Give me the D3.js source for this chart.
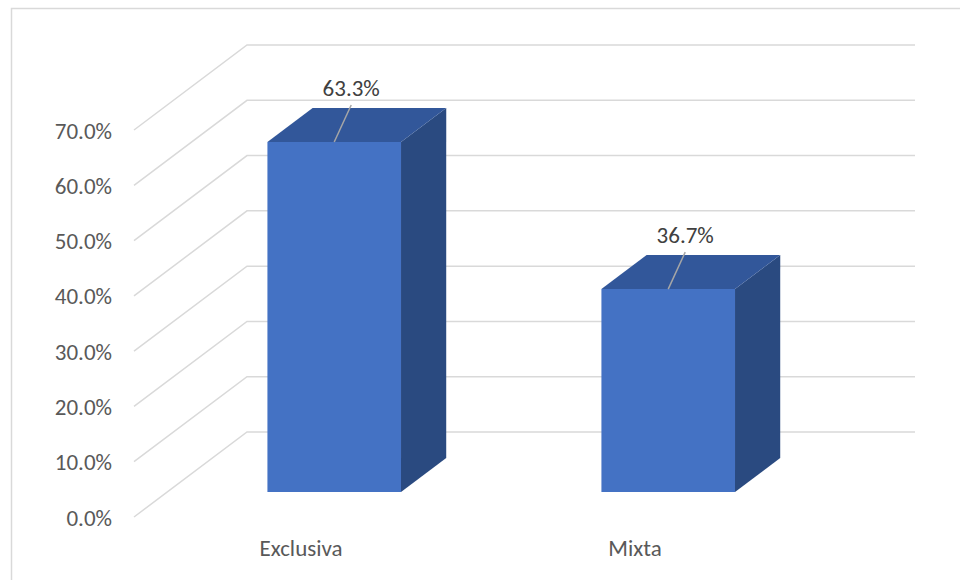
<!DOCTYPE html>
<html>
<head>
<meta charset="utf-8">
<script src="https://cdn.jsdelivr.net/npm/d3@7"></script>
<style>
  html, body { margin: 0; padding: 0; background: #fff; }
  svg { display: block; font-family: Calibri, Carlito, Lato, "Open Sans", sans-serif; }
</style>
</head>
<body>
<svg id="chart" width="960" height="580"></svg>
<script>
// Data
const categories = ["Exclusiva", "Mixta"];
const values = [63.3, 36.7];
const yTicks = [0, 10, 20, 30, 40, 50, 60, 70];

const svg = d3.select("#chart");
const fontSize = 23;

// Chart frame (top and left edges)
svg.append("path")
  .attr("d", "M11.5,580 V8.5 H960")
  .attr("fill", "none")
  .attr("stroke", "#d9d9d9")
  .attr("stroke-width", 1.5);

// 3D geometry: front plane and depth offset
const depthDX = 113, depthDY = -85;
const x = d3.scaleBand().domain(categories).range([134, 802]).paddingInner(0).paddingOuter(0);
const y = d3.scaleLinear().domain([0, 70]).range([517, 130]);
const proj = (px, v, t) => [px + t * depthDX, y(v) + t * depthDY];

const wallRight = 915;

// Gridlines: side wall diagonal + back wall horizontal
const grid = svg.append("g");
yTicks.forEach(v => {
  const a = proj(x.range()[0], v, 0);
  const b = proj(x.range()[0], v, 1);
  grid.append("path")
    .attr("d", `M${a[0]},${a[1]} L${b[0]},${b[1]} H${wallRight}`)
    .attr("fill", "none")
    .attr("stroke", "#d9d9d9")
    .attr("stroke-width", 1.5);
});

// Y axis labels
const yAxis = d3.axisLeft(y).tickValues(yTicks).tickFormat(d => d3.format(".1f")(d) + "%").tickSize(0).tickPadding(0);
const yg = svg.append("g").attr("transform", "translate(112,0)").call(yAxis);
yg.select(".domain").remove();
yg.selectAll("text")
  .attr("fill", "#595959")
  .attr("font-size", fontSize)
  .attr("font-family", "Calibri, Carlito, Lato, sans-serif")
  .attr("dy", "0.35em");

// X axis labels (at front plane)
const xAxis = d3.axisBottom(x).tickSize(0).tickPadding(0);
const xg = svg.append("g").attr("transform", "translate(0,540)").call(xAxis);
xg.select(".domain").remove();
xg.selectAll("text")
  .attr("fill", "#595959")
  .attr("font-size", fontSize)
  .attr("font-family", "Calibri, Carlito, Lato, sans-serif")
  .attr("dy", "0.71em");

// 3D bars
const t0 = 0.294, t1 = 0.694;
const barFrac = 0.4;
const bars = svg.append("g");
categories.forEach((c, i) => {
  const v = values[i];
  const cx = x(c) + x.bandwidth() / 2;
  const w = x.bandwidth() * barFrac;
  const xl = cx - w / 2, xr = cx + w / 2;
  const fBL = proj(xl, 0, t0), fBR = proj(xr, 0, t0);
  const fTL = proj(xl, v, t0), fTR = proj(xr, v, t0);
  const bBR = proj(xr, 0, t1), bTL = proj(xl, v, t1), bTR = proj(xr, v, t1);
  const poly = pts => "M" + pts.map(p => p.join(",")).join("L") + "Z";
  // side
  bars.append("path").attr("d", poly([fBR, fTR, bTR, bBR])).attr("fill", "#2a4a80");
  // top
  bars.append("path").attr("d", poly([fTL, bTL, bTR, fTR])).attr("fill", "#32579a");
  // front
  bars.append("path").attr("d", poly([fBL, fTL, fTR, fBR])).attr("fill", "#4472c4");

  // Data label with leader line
  const fc = proj(cx, v, t0);
  const lx = fc[0] + 17, ly = fc[1] - 46;
  bars.append("line")
    .attr("x1", fc[0]).attr("y1", fc[1])
    .attr("x2", lx).attr("y2", ly + 9)
    .attr("stroke", "#a6a6a6").attr("stroke-width", 1.5);
  bars.append("text")
    .attr("x", lx).attr("y", ly)
    .attr("text-anchor", "middle")
    .attr("fill", "#404040")
    .attr("font-size", fontSize)
    .text(d3.format(".1f")(v) + "%");
});
</script>
</body>
</html>
